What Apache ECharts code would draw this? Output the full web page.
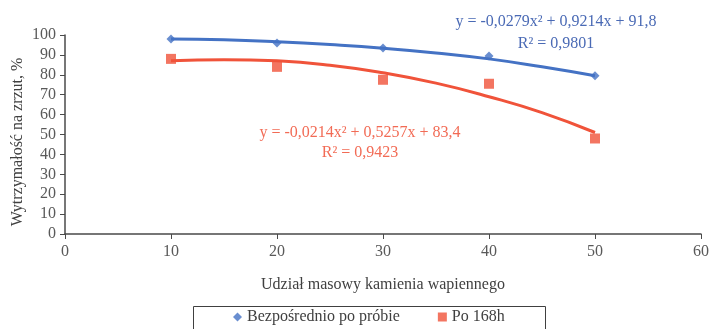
<!DOCTYPE html>
<html><head><meta charset="utf-8">
<script src="https://cdn.jsdelivr.net/npm/echarts@6/dist/echarts.min.js"></script>
<style>html,body{margin:0;padding:0;background:#fff}#c{width:709px;height:329px}</style>
</head><body><div id="c"></div>
<script>
const xCats = [10, 20, 30, 40, 50];
const bezposrednio = [98, 96, 93.5, 89.5, 79.5];
const po168h = [88, 84, 77.5, 75.5, 48];
const trendX = [10, 15, 20, 25, 30, 35, 40, 45, 50];
const trendBlue = [98, 97.6, 96.6, 95.2, 93.4, 91, 88, 84, 79.5];
const trendRed = [87, 87.6, 87, 84.8, 81, 75.8, 69, 61, 51];
const eqBlue = ['y = -0,0279x² + 0,9214x + 91,8', 'R² = 0,9801'];
const eqRed = ['y = -0,0214x² + 0,5257x + 83,4', 'R² = 0,9423'];
const yTitle = 'Wytrzymałość na zrzut, %';
const blue = '#4472C4', red = '#F0533A';
const F = '"Liberation Serif", "Times New Roman", serif';
const chart = echarts.init(document.getElementById('c'));
const zip = (xs, ys) => xs.map((x, i) => [x, ys[i]]);
chart.setOption({
  animation: false,
  textStyle: { fontFamily: F },
  grid: { left: 65, right: 8, top: 35, bottom: 95, containLabel: false, outerBoundsMode: 'none' },
  xAxis: {
    type: 'value', min: 0, max: 60, interval: 10,
    name: 'Udział masowy kamienia wapiennego', nameLocation: 'middle', nameGap: 43,
    nameTextStyle: { fontFamily: F, fontSize: 16, color: '#404040' },
    axisLine: { lineStyle: { color: '#4a4a4a', width: 1.5 } },
    axisTick: { lineStyle: { color: '#4a4a4a' }, length: 5 },
    axisLabel: { fontFamily: F, fontSize: 16, color: '#595959', margin: 10 },
    splitLine: { show: false }
  },
  yAxis: {
    type: 'value', min: 0, max: 100, interval: 10,
    axisLine: { show: true, lineStyle: { color: '#4a4a4a', width: 1.5 } },
    axisTick: { show: true, lineStyle: { color: '#4a4a4a' }, length: 5 },
    axisLabel: { fontFamily: F, fontSize: 16, color: '#595959', margin: 9 },
    splitLine: { show: false }
  },
  legend: {
    data: [
      { name: 'Bezpośrednio po próbie', icon: 'diamond' },
      { name: 'Po 168h', icon: 'rect' }
    ],
    left: 228, top: 304, itemGap: 38, itemWidth: 9, itemHeight: 9,
    formatter: '{t|{name}}',
    textStyle: { fontFamily: F, fontSize: 16, color: '#404040',
      rich: { t: { fontFamily: F, fontSize: 16, color: '#404040' } } }
  },
  graphic: [
    { type: 'rect', left: 191, top: 304, shape: { width: 352, height: 40 },
      style: { fill: 'none', stroke: '#404040', lineWidth: 1 }, z: -1 },
    { type: 'text', x: 18, y: 142, rotation: Math.PI / 2, style: { text: yTitle, fill: '#404040', font: '16px ' + F, align: 'center', verticalAlign: 'middle' } },
    { type: 'text', x: 556, y: 22, style: { text: eqBlue[0], fill: '#4A6AB5', font: '16px ' + F, align: 'center', verticalAlign: 'middle' } },
    { type: 'text', x: 556, y: 44, style: { text: eqBlue[1], fill: '#4A6AB5', font: '16px ' + F, align: 'center', verticalAlign: 'middle' } },
    { type: 'text', x: 360, y: 133, style: { text: eqRed[0], fill: '#F26B55', font: '16px ' + F, align: 'center', verticalAlign: 'middle' } },
    { type: 'text', x: 360, y: 153, style: { text: eqRed[1], fill: '#F26B55', font: '16px ' + F, align: 'center', verticalAlign: 'middle' } }
  ],
  series: [
    { name: 'trendBlue', type: 'line', data: zip(trendX, trendBlue), smooth: true, showSymbol: false,
      lineStyle: { color: blue, width: 3 }, z: 2 },
    { name: 'trendRed', type: 'line', data: zip(trendX, trendRed), smooth: true, showSymbol: false,
      lineStyle: { color: red, width: 3 }, z: 2 },
    { name: 'Bezpośrednio po próbie', type: 'scatter', data: zip(xCats, bezposrednio), symbol: 'diamond',
      symbolSize: 9, itemStyle: { color: blue }, z: 3 },
    { name: 'Po 168h', type: 'scatter', data: zip(xCats, po168h), symbol: 'rect',
      symbolSize: 10, itemStyle: { color: red }, z: 3 }
  ]
});
</script></body></html>
